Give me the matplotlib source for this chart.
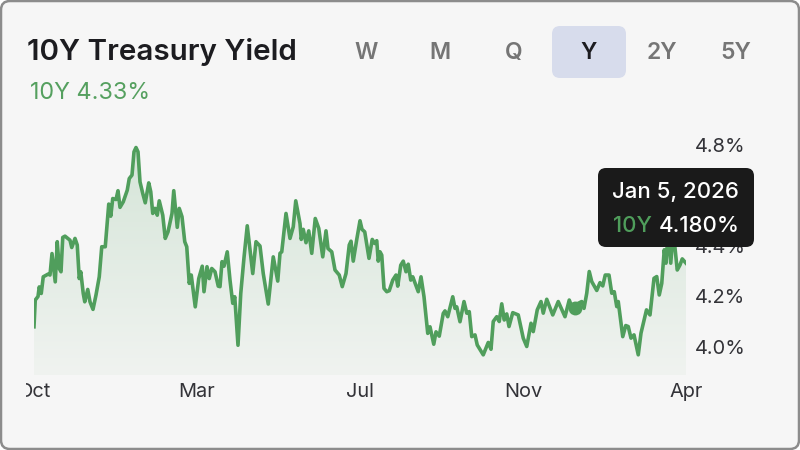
import numpy as np
import matplotlib
matplotlib.use("Agg")
import matplotlib.pyplot as plt
from matplotlib.patches import FancyBboxPatch, Rectangle
from matplotlib.transforms import Bbox

plt.rcParams['font.family'] = ['Inter', 'DejaVu Sans']

sessions = [0.0,.5,1.6,2.1,2.9,3.7,5.7,6.4,7.2,8.5,9.3,10.1,10.8,11.5,12.4,14.4,15.1,16.4,17.3,18.1,18.7,19.7,20.3,21.5,22.4,23.6,24.8,26.1,27.1,28.5,29.9,30.7,31.5,32.8,33.6,34.4,35.7,37.3,38.1,39.2,40.0,40.8,41.6,42.4,43.5,44.5,45.9,46.7,47.5,48.4,49.3,50.1,51.5,52.5,53.6,55.2,55.9,57.3,58.1,59.2,60.3,61.1,62.1,62.9,64.5,65.9,67.3,68.0,69.2,70.1,71.1,72.4,73.7,74.4,75.2,76.0,77.3,78.4,79.5,80.3,81.6,82.7,84.0,85.3,
87.5,88.8,90.4,91.7,93.7,95.7,97.5,98.4,99.1,100.8,102.4,103.7,104.7,106.4,106.9,107.7,108.8,109.9,111.1,112.5,113.9,115.5,116.8,117.6,119.1,120.4,122.1,123.3,124.8,126.1,126.8,127.7,129.1,130.4,131.2,132.3,134.0,135.3,136.3,137.1,137.7,138.4,139.1,140.0,141.1,142.1,143.5,144.8,145.5,146.7,147.7,148.8,149.7,150.7,151.5,153.7,154.8,156.0,157.5,158.4,159.9,160.8,162.1,163.7,164.4,165.5,167.5,168.4,169.1,170.4,
172.0,173.1,174.1,175.1,176.4,177.3,179.7,181.7,182.8,183.7,185.1,186.1,187.1,188.1,189.1,190.0,191.5,193.7,195.7,197.1,198.8,199.7,201.3,202.8,203.7,205.1,207.5,209.7,212.4,214.1,215.1,216.4,217.7,219.1,220.0,221.1,222.1,223.1,225.1,226.4,227.5,228.5,230.0,231.1,232.1,233.1,233.7,235.5,236.7,237.7,238.8,240.0,241.7,242.8,245.0,246.4,248.0,249.1,250.1,251.1,252.1,252.8,253.7,254.7,255.7,257.3,258.4,259.3,260.8]
yields = [4.08,4.186,4.20,4.238,4.212,4.278,4.289,4.285,4.37,4.258,4.417,4.311,4.298,4.434,4.439,4.423,4.394,4.43,4.404,4.271,4.298,4.212,4.179,4.228,4.179,4.149,4.206,4.278,4.397,4.397,4.566,4.518,4.588,4.584,4.619,4.553,4.575,4.621,4.667,4.681,4.773,4.79,4.773,4.654,4.608,4.571,4.65,4.615,4.529,4.549,4.522,4.579,4.522,4.43,4.456,4.529,4.619,4.474,4.549,4.516,4.417,4.397,4.252,4.285,4.159,4.271,4.32,4.219,4.318,4.271,4.311,4.298,4.241,4.239,4.338,4.32,4.377,4.265,4.173,4.199,4.007,4.212,4.354,4.48,
4.291,4.417,4.40,4.291,4.17,4.357,4.261,4.371,4.377,4.529,4.43,4.476,4.579,4.489,4.426,4.466,4.413,4.46,4.371,4.509,4.47,4.357,4.46,4.39,4.377,4.305,4.285,4.239,4.291,4.404,4.419,4.34,4.426,4.5,4.466,4.456,4.351,4.426,4.41,4.421,4.34,4.377,4.364,4.232,4.219,4.223,4.265,4.285,4.241,4.324,4.34,4.298,4.328,4.265,4.278,4.219,4.278,4.199,4.054,4.08,4.011,4.06,4.043,4.133,4.143,4.12,4.199,4.153,4.159,4.1,
4.18,4.134,4.14,4.041,4.048,4.008,3.969,4.018,3.991,4.101,4.12,4.101,4.171,4.107,4.131,4.081,4.136,4.127,4.035,4.002,4.094,4.061,4.147,4.18,4.134,4.189,4.127,4.18,4.12,4.186,4.16,4.153,4.173,4.18,4.153,4.213,4.299,4.259,4.224,4.255,4.242,4.285,4.285,4.213,4.219,4.16,4.18,4.041,4.085,4.081,4.035,4.048,3.969,4.055,4.147,4.127,4.272,4.279,4.206,4.252,4.385,4.332,4.46,4.332,4.46,4.305,4.325,4.349,4.332]

x_tick_pos = [0, 65.2, 130.4, 195.6, 260.8]
x_tick_labels = ['Oct', 'Mar', 'Jul', 'Nov', 'Apr']
y_ticks = [4.0, 4.2, 4.4, 4.6, 4.8]
y_tick_labels = ['4.0%', '4.2%', '4.4%', '4.6%', '4.8%']
periods = ['W', 'M', 'Q', 'Y', '2Y', '5Y']
period_x = [366, 440, 514, 589, 662, 736]
hover_session = 216.4
hover_level = 4.153

W, H = 800, 450
fig = plt.figure(figsize=(8, 4.5), dpi=100, facecolor='white')
bg = fig.add_axes([0, 0, 1, 1], zorder=0)
bg.set_xlim(0, W); bg.set_ylim(H, 0); bg.axis('off')
bg.add_patch(FancyBboxPatch((1, 1), W-2, H-2, boxstyle='round,pad=0,rounding_size=9',
                            fc='#f6f6f6', ec='#8c8c8c', lw=1.8))
bg.add_patch(FancyBboxPatch((552, 26), 74, 52, boxstyle='round,pad=0,rounding_size=8',
                            fc='#d7dcec', ec='none'))
bg.text(27, 52.5, '10Y Treasury Yield', fontsize=21.3, fontweight=600, color='#1c1c20', va='center', ha='left')
bg.text(30, 93, '10Y 4.33%', fontsize=16.8, color='#55a05f', va='center', ha='left')
for name, px in zip(periods, period_x):
    sel = name == 'Y'
    bg.text(px, 53, name, fontsize=16.5, fontweight=600, color='#1c1c20' if sel else '#757575', ha='center', va='center')

ax = fig.add_axes([34/W, 1-375/H, 652/W, 245/H], zorder=1)
ax.patch.set_alpha(0)
ax.set_xlim(0, 260.8)
ax.set_ylim(4.0-28/252.5, 4.0+217/252.5)
for s in ax.spines.values():
    s.set_visible(False)
ax.yaxis.tick_right()
ax.set_yticks(y_ticks, y_tick_labels)
ax.set_xticks(x_tick_pos, x_tick_labels)
ax.tick_params(axis='both', length=0, labelsize=14.4, labelcolor='#333338')
ax.tick_params(axis='y', pad=6.5)
ax.tick_params(axis='x', pad=6)

poly = ax.fill_between(sessions, yields, ax.get_ylim()[0], color='none', lw=0)
grad = np.zeros((256, 1, 4))
top = np.array(matplotlib.colors.to_rgb('#d5e5d8'))
bot = np.array(matplotlib.colors.to_rgb('#f0f3f0'))
t = np.linspace(0, 1, 256)[:, None]
grad[:, 0, :3] = top*(1-t) + bot*t
grad[:, 0, 3] = 1
im = ax.imshow(grad, extent=[0, 260.8, ax.get_ylim()[0], 4.8], aspect='auto', zorder=1)
ax.set_xlim(0, 260.8); ax.set_ylim(4.0-28/252.5, 4.0+217/252.5)
p = poly.get_paths()[0]
im.set_clip_path(p, transform=ax.transData)
ax.plot(sessions, yields, color='#509e5c', lw=2.6, zorder=2, solid_joinstyle='round')
ax.plot([hover_session], [hover_level], 'o', color='#509e5c', ms=10, mew=0, zorder=3)

for lab in ax.get_xticklabels():
    lab.set_clip_on(True)
    lab.set_clip_box(Bbox([[26, 0], [800, 450]]))

tip = fig.add_axes([0, 0, 1, 1], zorder=2)
tip.set_xlim(0, W); tip.set_ylim(H, 0); tip.axis('off'); tip.patch.set_alpha(0)
tip.add_patch(FancyBboxPatch((598, 168), 156, 79, boxstyle='round,pad=0,rounding_size=8',
                             fc='#1a1a1a', ec='none'))
tip.text(612, 192, 'Jan 5, 2026', fontsize=16, fontweight=500, color='white', va='center', ha='left')
tip.text(613, 226, '10Y', fontsize=16, fontweight=500, color='#4f9d5b', va='center', ha='left')
tip.text(659, 226, '4.180%', fontsize=16, fontweight=500, color='white', va='center', ha='left')

fig.savefig('out.png', dpi=100)
